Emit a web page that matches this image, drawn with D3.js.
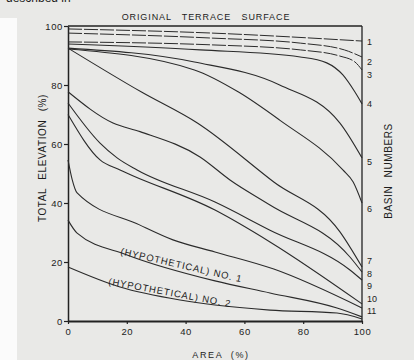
<!DOCTYPE html>
<html>
<head>
<meta charset="utf-8">
<script src="https://cdn.jsdelivr.net/npm/d3@7"></script>
<style>
  html, body { margin: 0; padding: 0; background: #e9e9e7; }
  svg { display: block; }
  text { font-family: "Liberation Sans", Arial, sans-serif; fill: #1c1c1c; }
</style>
</head>
<body>
<script>
// ---- data (area %, total elevation %) ----
const basinNumbers = ["1","2","3","4","5","6","7","8","9","10","11"];
const basin1  = [[0,99.0],[49,97.6],[100,94.9]];
const basin2  = [[0,97.6],[49,95.9],[79,94.2],[94,91.9],[100,89.5]];
const basin3  = [[0,94.6],[49,93.6],[79,91.9],[92.5,89.8],[97.6,87.8],[100,85.1]];
const basin4  = [[0,93.9],[45,91.9],[79,89.5],[88,87.5],[93.5,83.4],[97.6,77.6],[100,73.6]];
const basin5  = [[0,92.5],[43,87.8],[72,80.0],[92.5,67.1],[100,55.3]];
const basin6  = [[0,92.2],[43,85.1],[58,77.6],[72,68.1],[93.5,51.2],[97,47.1],[100,40.0]];
const basin7  = [[0,92.5],[25,77.6],[44,67.1],[70,47.1],[92.5,30.2],[100,18.3]];
const basin8  = [[0,77.7],[15.3,67.1],[24.5,64.2],[44.9,55.6],[55.1,47.8],[68.7,39.3],[95.9,21.7],[100,16.6]];
const basin9  = [[0,73.9],[10.9,60.3],[16.7,55.3],[23.5,51.2],[50,40.3],[68.7,30.8],[95.9,17.3],[100,13.9]];
const basin10 = [[0,70.0],[10.9,54.6],[17.7,51.2],[50,37.6],[68.7,26.8],[100,5.8]];
const basin11 = [[0,54.6],[1.4,48.0],[3.1,43.4],[24.5,32.5],[35.7,27.5],[50,23.4],[70,17.6],[100,4.4]];
const hypothetical1 = [[0,34.2],[3.1,29.8],[20.1,22.4],[50,13.6],[68.7,9.5],[91.5,4.4],[100,1.4]];
const hypothetical2 = [[0,18.3],[17.7,11.5],[38.1,7.1],[50,5.4],[68.7,3.7],[91.5,2.7],[100,0.7]];
const basinLabelElev = [94.6, 87.8, 83.4, 73.6, 53.9, 38.0, 20.3, 16.1, 12.0, 7.5, 3.4];
const xTicks = [0, 20, 40, 60, 80, 100];
const yTicks = [0, 20, 40, 60, 80, 100];
const hypLabels = ["(HYPOTHETICAL) NO. 1", "(HYPOTHETICAL) NO. 2"];
const hypLabelAnchor = [[17.7, 22.6], [13.6, 12.4]];
const hypLabelAngle = [13, 10.5];

const basins = [basin1,basin2,basin3,basin4,basin5,basin6,basin7,basin8,basin9,basin10,basin11];

// ---- drawing ----
const W = 414, H = 360;
const svg = d3.select("body").append("svg").attr("width", W).attr("height", H);

// paper + scanned white margin strip
svg.append("rect").attr("width", W).attr("height", H).attr("fill", "#e9e9e7");
svg.append("rect").attr("x", 0).attr("y", 18).attr("width", 17).attr("height", H - 18).attr("fill", "#fbfbfb");

// cut-off running text at top
svg.append("text").attr("x", 6).attr("y", 2).attr("font-size", 12).attr("fill", "#444")
  .text("described in");

const x = d3.scaleLinear().domain([0, 100]).range([68, 362]);
const y = d3.scaleLinear().domain([0, 100]).range([321, 26]);

const g = svg.append("g");

// frame
g.append("line").attr("x1", x(0)).attr("x2", x(100)).attr("y1", y(100)).attr("y2", y(100))
  .attr("stroke", "#222").attr("stroke-width", 1.6);
g.append("line").attr("x1", x(100)).attr("x2", x(100)).attr("y1", y(100)).attr("y2", y(0))
  .attr("stroke", "#222").attr("stroke-width", 1.3);

// axes
const yAxis = g.append("g").attr("transform", `translate(${x(0)},0)`)
  .call(d3.axisLeft(y).tickValues(yTicks).tickSize(4).tickPadding(1).tickSizeOuter(0));
const xAxis = g.append("g").attr("transform", `translate(0,${y(0)})`)
  .call(d3.axisBottom(x).tickValues(xTicks).tickSize(3).tickPadding(4).tickSizeOuter(0));
[yAxis, xAxis].forEach(a => {
  a.select(".domain").attr("stroke", "#222").attr("stroke-width", 1.5);
  a.selectAll(".tick line").attr("stroke", "#222").attr("stroke-width", 1.2);
  a.selectAll("text").attr("font-size", 9.5).attr("fill", "#1c1c1c")
    .style("font-family", "'Liberation Sans', Arial, sans-serif").attr("letter-spacing", 0.6);
});
xAxis.select(".domain").attr("stroke-width", 2);

// curves
const line = d3.line().x(d => x(d[0])).y(d => y(d[1])).curve(d3.curveMonotoneX);
g.selectAll("path.basin").data(basins).join("path").attr("class", "basin")
  .attr("d", line).attr("fill", "none").attr("stroke", "#2b2b2b")
  .attr("stroke-width", (d, i) => i < 3 ? 1.0 : 1.1)
  .attr("stroke-dasharray", (d, i) => i < 3 ? "14,2" : null);
g.selectAll("path.hyp").data([hypothetical1, hypothetical2]).join("path").attr("class", "hyp")
  .attr("d", line).attr("fill", "none").attr("stroke", "#2b2b2b").attr("stroke-width", 1.1);

// basin numbers on the right
g.selectAll("text.bn").data(basinNumbers).join("text").attr("class", "bn")
  .attr("x", x(100) + 5).attr("y", (d, i) => y(basinLabelElev[i]))
  .attr("dy", "0.35em").attr("font-size", 9).text(d => d);

// hypothetical labels
g.selectAll("text.hl").data(hypLabels).join("text").attr("class", "hl")
  .attr("transform", (d, i) => `translate(${x(hypLabelAnchor[i][0])},${y(hypLabelAnchor[i][1])}) rotate(${hypLabelAngle[i]})`)
  .attr("font-size", 9.5).attr("letter-spacing", 0.9).text(d => d);

// titles
svg.append("text").attr("x", 206).attr("y", 20).attr("text-anchor", "middle")
  .attr("font-size", 9).attr("letter-spacing", 0.9).attr("word-spacing", 7)
  .text("ORIGINAL TERRACE SURFACE");
svg.append("text").attr("x", 221).attr("y", 358).attr("text-anchor", "middle")
  .attr("font-size", 9).attr("letter-spacing", 1.6).attr("word-spacing", 4)
  .text("AREA (%)");
svg.append("text").attr("transform", "translate(46,158) rotate(-90)").attr("text-anchor", "middle")
  .attr("font-size", 10).attr("letter-spacing", 0.6).attr("word-spacing", 5)
  .text("TOTAL ELEVATION (%)");
svg.append("text").attr("transform", "translate(392,171) rotate(-90)").attr("text-anchor", "middle")
  .attr("font-size", 10).attr("letter-spacing", 0.6).attr("word-spacing", 5)
  .text("BASIN NUMBERS");
</script>
</body>
</html>
